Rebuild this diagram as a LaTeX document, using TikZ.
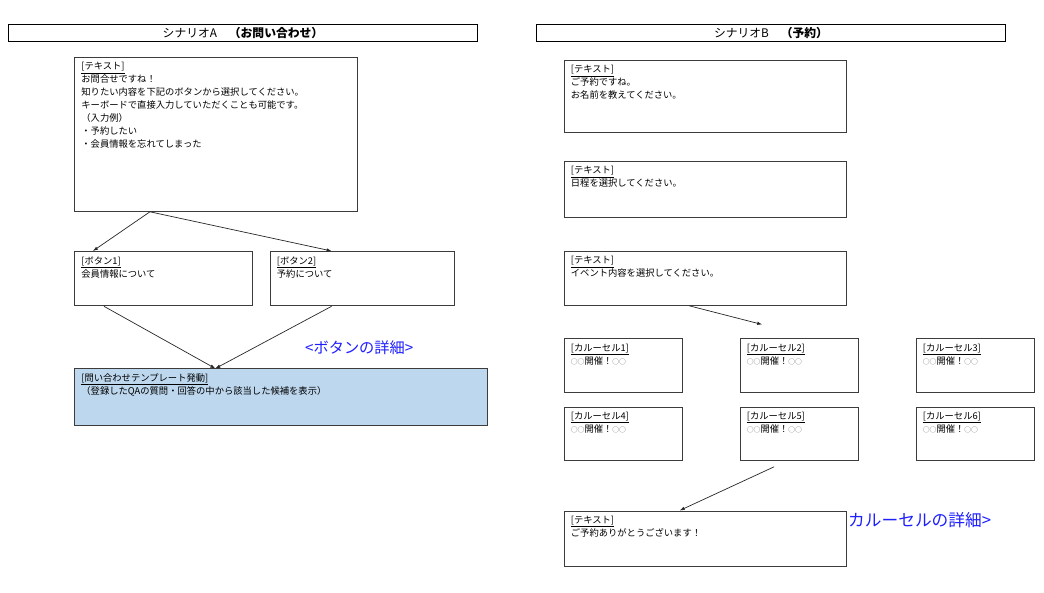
\documentclass[tikz,border=0pt]{standalone}
\usepackage{fontspec}
\setmainfont{Noto Sans CJK JP}
\usetikzlibrary{arrows.meta,calc,positioning}

\definecolor{boxgray}{HTML}{3C3C3C}
\definecolor{tmplblue}{HTML}{BDD7EE}
\definecolor{notebl}{HTML}{1E1EFF}

\newcommand{\cell}[4]{\parbox[t][#2pt][t]{#1pt}{\underline{#3}\\#4}}
\newcommand{\maru}{{\color{black!60}\fontsize{6.8}{13}\selectfont ○○}}

\tikzset{
    textbox/.style = {draw=boxgray, line width=0.8pt, anchor=north west,
        inner xsep=7pt, inner ysep=5pt, font=\fontsize{9.3}{13}\selectfont},
    header/.style = {draw, line width=1.6pt, minimum width=469pt,
        minimum height=17pt, inner sep=0pt, font=\fontsize{11.8}{13}\selectfont},
    note/.style = {text=notebl, inner sep=0pt, anchor=west},
    arrow/.style = {draw=black!85, line width=0.7pt, -{Latex[length=5pt,width=3.5pt]}}
}

\begin{document}
\begin{tikzpicture}[x=1pt, y=-1pt]
    \useasboundingbox (0,0) rectangle (1044,593);
    % scenario A
    \node[header] (hdra) at (243,33) {シナリオA　\textbf{（お問い合わせ）}};
    \node[textbox] (a1) at (74,57) {\cell{268.5}{144}{[テキスト]}{お問合せですね！\\知りたい内容を下記のボタンから選択してください。\\キーボードで直接入力していただくことも可能です。\\（入力例）\\・予約したい\\・会員情報を忘れてしまった}};
    \node[textbox] (btn1) at (74,251) {\cell{163.5}{44.5}{[ボタン1]}{会員情報について}};
    \node[textbox] (btn2) at (269.5,251) {\cell{170}{44.5}{[ボタン2]}{予約について}};
    \node[textbox, fill=tmplblue] (tmpl) at (74,368.5) {\cell{398.5}{46}{[問い合わせテンプレート発動]}{（登録したQAの質問・回答の中から該当した候補を表示）}};
    \node[note, font=\fontsize{15.2}{18}\selectfont] (btnnote) at (305,348) {<ボタンの詳細>};
    \draw[arrow] ($(a1.south west)!.268!(a1.south east)$) -- ($(btn1.north west)!.106!(btn1.north east)$);
    \draw[arrow] ($(a1.south west)!.268!(a1.south east)$) -- ($(btn2.north west)!.336!(btn2.north east)$);
    \foreach \b/\f in {btn1/.168, btn2/.336}{
        \draw[arrow] ($(\b.south west)!\f!(\b.south east)$) -- ($(tmpl.north west)!.342!(tmpl.north east)$);
    }
    % scenario B
    \node[header] (hdrb) at (771,33) {シナリオB　\textbf{（予約）}};
    \node[textbox] (b1) at (563.5,60) {\cell{268.5}{62}{[テキスト]}{ご予約ですね。\\お名前を教えてください。}};
    \node[textbox] (b2) at (563.5,161) {\cell{268.5}{46}{[テキスト]}{日程を選択してください。}};
    \node[textbox] (b3) at (563.5,251) {\cell{268.5}{44}{[テキスト]}{イベント内容を選択してください。}};
    \foreach \i/\cx/\cy in {1/563.5/338.5, 2/739.5/338.5, 3/915.5/338.5, 4/563.5/406.5, 5/739.5/406.5, 6/915.5/406.5}{
        \node[textbox] (car\i) at (\cx,\cy) {\cell{104.5}{43.5}{[カルーセル\i]}{\maru 開催！\maru}};
    }
    \node[note, font=\fontsize{16.7}{20}\selectfont] (carnote) at (848,520) {カルーセルの詳細>};
    \node[textbox] (thanks) at (563.5,510.5) {\cell{268.5}{45}{[テキスト]}{ご予約ありがとうございます！}};
    \coordinate (car2in) at ($(car2.north west)!.19!(car2.north east)+(0,-14)$);
    \draw[arrow] ($(b3.south west)!.444!(b3.south east)$) -- (car2in);
    \coordinate (car5out) at ($(car5.south west)!.29!(car5.south east)+(0,6)$);
    \draw[arrow] (car5out) -- ($(thanks.north west)!.41!(thanks.north east)$);
\end{tikzpicture}
\end{document}
